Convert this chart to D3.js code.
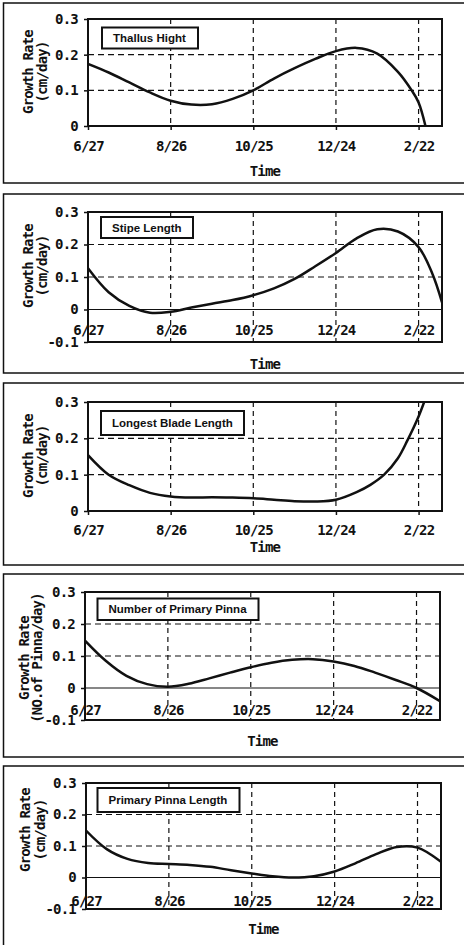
<!DOCTYPE html>
<html>
<head>
<meta charset="utf-8">
<script src="https://cdn.jsdelivr.net/npm/d3@7"></script>
<style>
  body { margin: 0; background: #fff; }
  svg { display: block; }
  .tick text { font-family: "DejaVu Sans Mono", monospace; font-weight: bold; font-size: 14px; letter-spacing: -0.8px; fill: #111; }
  .axis-title { font-family: "DejaVu Sans Mono", monospace; font-weight: bold; font-size: 14px; letter-spacing: -0.8px; fill: #111; }
  .legend-text { font-family: "Liberation Sans", Arial, sans-serif; font-weight: bold; font-size: 11.5px; fill: #111; }
</style>
</head>
<body>
<div id="chart"></div>
<script>
(function () {
  'use strict';

  // ── data ─────────────────────────────────────────────
  // x = days since 6/27, ticks every 60 days
  var dayTicks = [0, 60, 120, 180, 240];
  var dateLabels = ['6/27', '8/26', '10/25', '12/24', '2/22'];
  var rateTicksPos = [0, 0.1, 0.2, 0.3];
  var rateTicksNeg = [-0.1, 0, 0.1, 0.2, 0.3];
  var dayMax = 257;

  var thallusDays = [0, 15, 30, 45, 60, 75, 90, 105, 120, 135, 150, 165, 180, 195, 210, 225, 235, 240, 245];
  var thallusRate = [0.174, 0.150, 0.122, 0.094, 0.071, 0.060, 0.061, 0.076, 0.100, 0.133, 0.162, 0.188, 0.210, 0.219, 0.203, 0.152, 0.100, 0.066, 0.0];

  var stipeDays = [0, 15, 30, 45, 60, 75, 90, 105, 120, 135, 150, 165, 180, 195, 210, 225, 240, 250, 257];
  var stipeRate = [0.127, 0.053, 0.011, -0.010, -0.007, 0.006, 0.018, 0.029, 0.044, 0.065, 0.094, 0.133, 0.174, 0.219, 0.247, 0.240, 0.192, 0.110, 0.022];

  var bladeDays = [0, 15, 30, 45, 60, 75, 90, 105, 120, 135, 150, 165, 180, 195, 205, 215, 225, 232, 240, 245];
  var bladeRate = [0.154, 0.100, 0.071, 0.050, 0.040, 0.037, 0.038, 0.037, 0.035, 0.031, 0.027, 0.026, 0.031, 0.052, 0.072, 0.100, 0.145, 0.195, 0.260, 0.310];

  var pinnaNumDays = [0, 15, 30, 45, 60, 75, 90, 105, 120, 135, 150, 165, 180, 195, 210, 225, 240, 257];
  var pinnaNumRate = [0.148, 0.085, 0.038, 0.012, 0.004, 0.013, 0.030, 0.048, 0.065, 0.079, 0.088, 0.090, 0.083, 0.069, 0.048, 0.025, 0.0, -0.041];

  var pinnaLenDays = [0, 15, 30, 45, 60, 75, 90, 105, 120, 135, 150, 165, 180, 195, 210, 225, 240, 257];
  var pinnaLenRate = [0.149, 0.090, 0.059, 0.046, 0.043, 0.040, 0.034, 0.023, 0.013, 0.004, 0.0, 0.004, 0.019, 0.045, 0.074, 0.097, 0.095, 0.050];

  // ── layout ───────────────────────────────────────────
  var panels = [
    { name: 'Thallus Hight', days: thallusDays, rate: thallusRate, yTicks: rateTicksPos,
      unit: '(cm/day)', box: [3, 183], plot: { l: 88, r: 442, t: 19, b: 126 },
      legend: { x: 102, y: 27.5, w: 96, h: 21 }, titleX: [28, 42], titleY: 72, labelY: 151, timeY: 176 },
    { name: 'Stipe Length', days: stipeDays, rate: stipeRate, yTicks: rateTicksNeg,
      unit: '(cm/day)', box: [194, 373], plot: { l: 88, r: 442, t: 212, b: 342 },
      legend: { x: 101, y: 217, w: 92, h: 21 }, titleX: [28, 42], titleY: 266, labelY: 335, timeY: 369 },
    { name: 'Longest Blade Length', days: bladeDays, rate: bladeRate, yTicks: rateTicksPos,
      unit: '(cm/day)', box: [383, 565], plot: { l: 88, r: 442, t: 402, b: 511 },
      legend: { x: 101, y: 411, w: 143, h: 24 }, titleX: [28, 42], titleY: 456, labelY: 535, timeY: 552 },
    { name: 'Number of Primary Pinna', days: pinnaNumDays, rate: pinnaNumRate, yTicks: rateTicksNeg,
      unit: '(NO.of Pinna/day)', box: [574, 757], plot: { l: 85, r: 440, t: 592, b: 720 },
      legend: { x: 97.5, y: 598.5, w: 161, h: 21.5 }, titleX: [24, 37], titleY: 658, labelY: 715, timeY: 746 },
    { name: 'Primary Pinna Length', days: pinnaLenDays, rate: pinnaLenRate, yTicks: rateTicksNeg,
      unit: '(cm/day)', box: [766, 952], plot: { l: 86, r: 441, t: 783, b: 909 },
      legend: { x: 97.5, y: 788, w: 142, h: 24 }, titleX: [25, 40], titleY: 830, labelY: 906, timeY: 934 }
  ];

  var W = 464, H = 945;
  var ink = '#111';

  var svg = d3.select('#chart').append('svg')
    .attr('width', W)
    .attr('height', H);

  var defs = svg.append('defs');

  panels.forEach(function (p, i) {
    var yMin = p.yTicks[0];
    var x = d3.scaleLinear().domain([0, dayMax]).range([p.plot.l, p.plot.r]);
    var y = d3.scaleLinear().domain([yMin, 0.3]).range([p.plot.b, p.plot.t]);
    var g = svg.append('g');

    // outer panel box
    g.append('rect')
      .attr('x', 3.5).attr('y', p.box[0])
      .attr('width', 480).attr('height', p.box[1] - p.box[0])
      .attr('fill', 'none').attr('stroke', ink).attr('stroke-width', 1.5);

    // grid
    g.append('g').selectAll('line')
      .data(p.yTicks.filter(function (v) { return v > 0 && v < 0.3; }))
      .enter().append('line')
      .attr('x1', p.plot.l).attr('x2', p.plot.r)
      .attr('y1', function (d) { return y(d); }).attr('y2', function (d) { return y(d); })
      .attr('stroke', ink).attr('stroke-width', 1.2).attr('stroke-dasharray', '6,4');

    g.append('g').selectAll('line')
      .data(dayTicks.slice(1))
      .enter().append('line')
      .attr('x1', function (d) { return x(d); }).attr('x2', function (d) { return x(d); })
      .attr('y1', p.plot.t).attr('y2', p.plot.b)
      .attr('stroke', ink).attr('stroke-width', 1.2).attr('stroke-dasharray', '5,4');

    // zero line when the axis goes negative
    if (yMin < 0) {
      g.append('line')
        .attr('x1', p.plot.l).attr('x2', p.plot.r)
        .attr('y1', y(0)).attr('y2', y(0))
        .attr('stroke', ink).attr('stroke-width', 1.2);
    }

    // y axis
    var yAxis = g.append('g')
      .attr('transform', 'translate(' + p.plot.l + ',0)')
      .call(d3.axisLeft(y).tickValues(p.yTicks).tickSize(4).tickPadding(6)
        .tickFormat(function (d) { return d === 0 ? '0' : d.toFixed(1); }));
    yAxis.select('.domain').remove();
    yAxis.selectAll('line').attr('stroke', ink).attr('stroke-width', 1.5);

    // x axis (labels sit below the zero line)
    var xAxis = g.append('g')
      .attr('transform', 'translate(0,' + y(0) + ')')
      .call(d3.axisBottom(x).tickValues(dayTicks).tickSize(yMin < 0 ? 0 : 4)
        .tickFormat(function (d, j) { return dateLabels[j]; }));
    xAxis.select('.domain').remove();
    xAxis.selectAll('line').attr('stroke', ink).attr('stroke-width', 1.5);
    xAxis.selectAll('text').attr('y', p.labelY - y(0)).attr('dy', 0);

    // curve
    var clipId = 'clip' + i;
    defs.append('clipPath').attr('id', clipId)
      .append('rect')
      .attr('x', p.plot.l).attr('y', p.plot.t)
      .attr('width', p.plot.r - p.plot.l).attr('height', p.plot.b - p.plot.t);

    var pts = p.days.map(function (d, j) { return [d, p.rate[j]]; });
    var line = d3.line()
      .x(function (d) { return x(d[0]); })
      .y(function (d) { return y(d[1]); })
      .curve(d3.curveCatmullRom.alpha(0.5));

    g.append('path')
      .datum(pts)
      .attr('clip-path', 'url(#' + clipId + ')')
      .attr('d', line)
      .attr('fill', 'none')
      .attr('stroke', ink)
      .attr('stroke-width', 2.5)
      .attr('stroke-linejoin', 'round');

    // plot frame
    g.append('rect')
      .attr('x', p.plot.l).attr('y', p.plot.t)
      .attr('width', p.plot.r - p.plot.l).attr('height', p.plot.b - p.plot.t)
      .attr('fill', 'none').attr('stroke', ink).attr('stroke-width', 2);

    // legend box
    g.append('rect')
      .attr('x', p.legend.x).attr('y', p.legend.y)
      .attr('width', p.legend.w).attr('height', p.legend.h)
      .attr('fill', '#fff').attr('stroke', ink).attr('stroke-width', 2);
    g.append('text')
      .attr('class', 'legend-text')
      .attr('x', p.legend.x + 11)
      .attr('y', p.legend.y + p.legend.h / 2)
      .attr('dy', '0.36em')
      .text(p.name);

    // axis titles
    g.append('text')
      .attr('class', 'axis-title')
      .attr('text-anchor', 'middle')
      .attr('transform', 'translate(' + p.titleX[0] + ',' + p.titleY + ') rotate(-90)')
      .attr('dy', '0.35em')
      .text('Growth Rate');
    g.append('text')
      .attr('class', 'axis-title')
      .attr('text-anchor', 'middle')
      .attr('transform', 'translate(' + p.titleX[1] + ',' + p.titleY + ') rotate(-90)')
      .attr('dy', '0.35em')
      .text(p.unit);

    g.append('text')
      .attr('class', 'axis-title')
      .attr('text-anchor', 'middle')
      .attr('x', (p.plot.l + p.plot.r) / 2)
      .attr('y', p.timeY)
      .text('Time');
  });
})();
</script>
</body>
</html>
